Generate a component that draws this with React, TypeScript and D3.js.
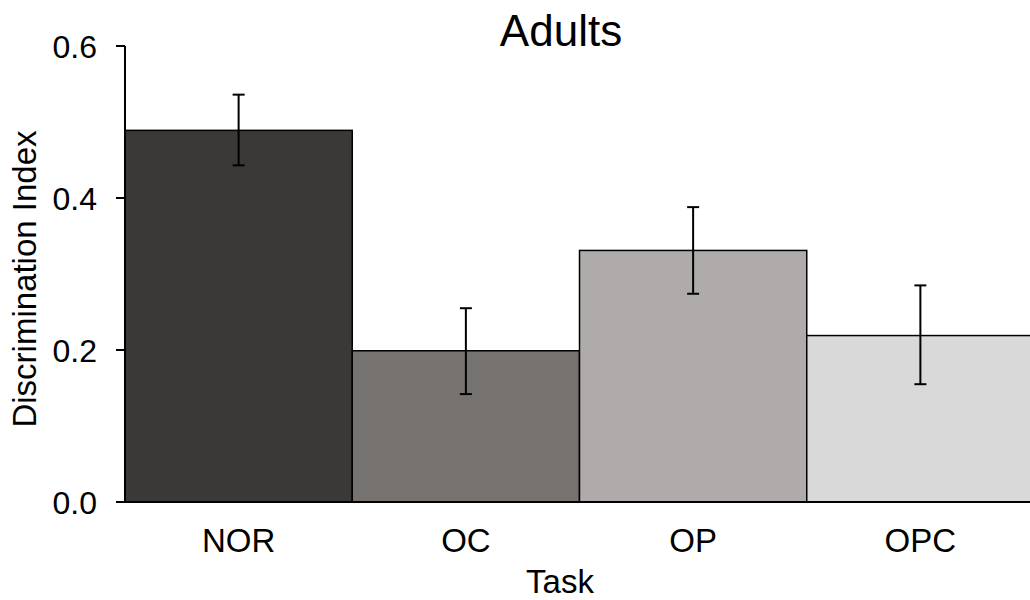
import React from 'react';
import * as d3 from 'd3';

const tasks = ['NOR', 'OC', 'OP', 'OPC'];
const means = [0.489, 0.199, 0.331, 0.219];
const errLow = [0.443, 0.142, 0.274, 0.155];
const errHigh = [0.536, 0.255, 0.388, 0.285];
const barColors = ['#3a3937', '#767270', '#afabaa', '#d9d9d9'];
const yTicks = [0, 0.2, 0.4, 0.6];

const W = 1030;
const H = 600;
const margin = { top: 46, right: -4, bottom: 98, left: 125 };
const FONT = '"Liberation Sans", Arial, sans-serif';

const App = () => {
  const innerH = H - margin.top - margin.bottom;

  const x = d3.scaleBand<string>()
    .domain(tasks)
    .range([margin.left, W - margin.right])
    .padding(0);

  const y = d3.scaleLinear()
    .domain([0, 0.6])
    .range([margin.top + innerH, margin.top]);

  const capW = 12;

  return (
    <svg width={W} height={H} style={{ position: 'absolute', left: 0, top: 0, background: '#fff' }}
      fontFamily={FONT}>
      {/* bars */}
      {tasks.map((t, i) => (
        <rect key={t}
          x={x(t)}
          y={y(means[i])}
          width={x.bandwidth()}
          height={y(0) - y(means[i])}
          fill={barColors[i]}
          stroke="#000"
          strokeWidth={1.5} />
      ))}

      {/* error bars */}
      {tasks.map((t, i) => {
        const cx = (x(t) as number) + x.bandwidth() / 2;
        return (
          <g key={'e' + t} stroke="#000" strokeWidth={2}>
            <line x1={cx} x2={cx} y1={y(errHigh[i])} y2={y(errLow[i])} />
            <line x1={cx - capW / 2} x2={cx + capW / 2} y1={y(errHigh[i])} y2={y(errHigh[i])} />
            <line x1={cx - capW / 2} x2={cx + capW / 2} y1={y(errLow[i])} y2={y(errLow[i])} />
          </g>
        );
      })}

      {/* axes */}
      <line x1={margin.left} x2={margin.left} y1={y(0.6)} y2={y(0)} stroke="#000" strokeWidth={2} />
      <line x1={margin.left - 9} x2={W} y1={y(0)} y2={y(0)} stroke="#000" strokeWidth={2} />
      {yTicks.map(v => (
        <g key={v}>
          <line x1={margin.left - 9} x2={margin.left} y1={y(v)} y2={y(v)} stroke="#000" strokeWidth={2} />
          <text x={97} y={y(v)} dy="0.36em" textAnchor="end" fontSize={32} fill="#000">
            {d3.format('.1f')(v)}
          </text>
        </g>
      ))}

      {/* x labels */}
      {tasks.map(t => (
        <text key={'l' + t} x={(x(t) as number) + x.bandwidth() / 2} y={552} textAnchor="middle"
          fontSize={33} fill="#000">{t}</text>
      ))}

      {/* titles */}
      <text x={561} y={46} textAnchor="middle" fontSize={44} fill="#000">Adults</text>
      <text x={560} y={593} textAnchor="middle" fontSize={33} fill="#000">Task</text>
      <text transform="translate(36,279) rotate(-90)" textAnchor="middle" fontSize={33} fill="#000">
        Discrimination Index
      </text>
    </svg>
  );
};

export default App;
